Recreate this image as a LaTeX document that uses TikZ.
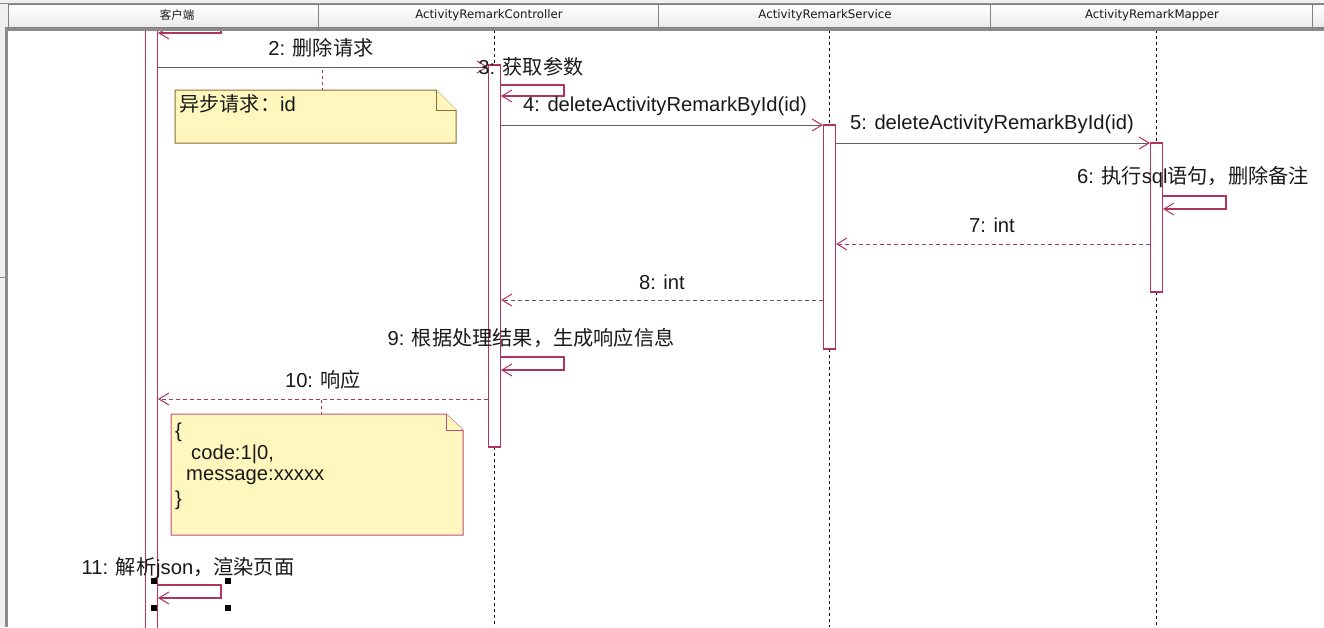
\documentclass[tikz,border=0pt]{standalone}
\usepackage{fontspec}
\setmainfont{Liberation Sans}
\newfontfamily\cjk{Noto Sans CJK SC}
\newfontfamily\hdr{DejaVu Sans}
\usetikzlibrary{arrows.meta}
\definecolor{lred}{RGB}{176,52,96}
\definecolor{msggray}{RGB}{95,95,95}
\definecolor{notefill}{RGB}{255,247,190}
\definecolor{noteedge}{RGB}{140,110,50}
\definecolor{hdrfill}{RGB}{240,240,240}
\definecolor{hdredge}{RGB}{140,140,140}
\tikzset{
  lbl/.style={font=\fontsize{20.2}{23}\selectfont, inner sep=0pt, text=black!90},
  hlbl/.style={font=\hdr\fontsize{11.8}{13}\selectfont, inner sep=0pt, text=black!90},
  actbar/.style={draw=lred, fill=white, line width=1.3pt},
  lifeline/.style={draw=black, line width=0.9pt, dash pattern=on 3pt off 3pt},
  tip/.style={-{Straight Barb[length=10pt,width=12pt,line width=1pt,color=lred]}},
  msg/.style={draw=msggray, line width=1pt, tip},
  ret/.style={draw=lred, line width=1pt, dash pattern=on 4pt off 3pt, tip},
  retg/.style={draw=msggray, line width=1pt, dash pattern=on 4pt off 3pt, tip},
  selfmsg/.style={draw=lred, line width=1.1pt, tip},
  notelink/.style={draw=lred, line width=1pt, dash pattern=on 3pt off 3pt},
  handle/.style={fill=black, draw=none, minimum size=6pt, inner sep=0pt},
}
\begin{document}
\begin{tikzpicture}[x=1pt,y=-1pt]
\useasboundingbox (0,0) rectangle (1324,627);
\fill[white] (0,0) rectangle (1324,627);

% ---------- lifelines ----------
\draw[lifeline] (494.5,30) -- (494.5,65);
\draw[lifeline] (494.5,447) -- (494.5,627);
\draw[lifeline] (829.5,30) -- (829.5,125);
\draw[lifeline] (829.5,349) -- (829.5,627);
\draw[lifeline] (1156.5,30) -- (1156.5,143);
\draw[lifeline] (1156.5,292) -- (1156.5,627);

% ---------- activation bars ----------
\draw[actbar] (145.5,20) rectangle (157.5,640);
\draw[actbar] (488.5,65) rectangle (500.5,447);
\draw[actbar] (823.5,125) rectangle (835.5,349);
\draw[actbar] (1150.5,143) rectangle (1162.5,292);

% named coordinates
\coordinate (c1a) at (221,20);  \coordinate (c1b) at (221,33);  \coordinate (c1c) at (158,33);
\coordinate (m2s) at (157,67);  \coordinate (m2e) at (488,67);
\coordinate (s3a) at (500,85);  \coordinate (s3b) at (564,85); \coordinate (s3c) at (564,96); \coordinate (s3d) at (501,96);
\coordinate (m4s) at (500,125); \coordinate (m4e) at (823,125);
\coordinate (m5s) at (835,143); \coordinate (m5e) at (1150,143);
\coordinate (s6a) at (1162,196); \coordinate (s6b) at (1226,196); \coordinate (s6c) at (1226,209); \coordinate (s6d) at (1163,209);
\coordinate (m7s) at (1150,244); \coordinate (m7e) at (836,244);
\coordinate (m8s) at (823,300); \coordinate (m8e) at (501,300);
\coordinate (s9a) at (500,357); \coordinate (s9b) at (564,357); \coordinate (s9c) at (564,370); \coordinate (s9d) at (501,370);
\coordinate (m10s) at (488,399); \coordinate (m10e) at (158,399);
\coordinate (s11a) at (157,585); \coordinate (s11b) at (221,585); \coordinate (s11c) at (221,598); \coordinate (s11d) at (158,598);

% ---------- messages ----------
\draw[selfmsg] (c1a) -- (c1b) -- (c1c);
\draw[msg] (m2s) -- (m2e);
\draw[selfmsg] (s3a) -- (s3b) -- (s3c) -- (s3d);
\draw[msg] (m4s) -- (m4e);
\draw[msg] (m5s) -- (m5e);
\draw[selfmsg] (s6a) -- (s6b) -- (s6c) -- (s6d);
\draw[ret] (m7s) -- (m7e);
\draw[retg] (m8s) -- (m8e);
\draw[selfmsg] (s9a) -- (s9b) -- (s9c) -- (s9d);
\draw[ret] (m10s) -- (m10e);
\draw[selfmsg] (s11a) -- (s11b) -- (s11c) -- (s11d);

% ---------- labels ----------
\node[lbl] (l2) at (321,48) {2: {\cjk 删除请求}};
\node[lbl] (l3) at (531,67) {3: {\cjk 获取参数}};
\node[lbl] (l4) at (665,106) {4: deleteActivityRemarkById(id)};
\node[lbl] (l5) at (992,124) {5: deleteActivityRemarkById(id)};
\node[lbl] (l6) at (1193,177) {6: {\cjk 执行}sql{\cjk 语句，删除备注}};
\node[lbl] (l7) at (992,225) {7: int};
\node[lbl] (l8) at (662,282) {8: int};
\node[lbl] (l9) at (531,338) {9: {\cjk 根据处理结果，生成响应信息}};
\node[lbl] (l10) at (323,380) {10: {\cjk 响应}};
\node[lbl] (l11) at (188,568) {11: {\cjk 解析}json{\cjk ，渲染页面}};

% ---------- notes ----------
\coordinate (n1top) at (322,90); \coordinate (n1link) at (322,70);
\draw[notelink] (n1link) -- (n1top);
\draw[fill=notefill, draw=noteedge, line width=1pt]
  (175,90) -- (436,90) -- (456,110) -- (456,143) -- (175,143) -- cycle;
\draw[draw=noteedge, line width=1pt, fill=notefill] (436,90) -- (436,110) -- (456,110);
\node[lbl, anchor=west] (note1) at (179,104) {{\cjk 异步请求：}id};

\coordinate (n2top) at (321,414); \coordinate (n2link) at (321,400);
\draw[notelink] (n2link) -- (n2top);
\draw[fill=notefill, draw=lred!85, line width=1pt]
  (171,414) -- (446,414) -- (463,430) -- (463,535) -- (171,535) -- cycle;
\draw[draw=lred!85, line width=1pt, fill=notefill] (446,414) -- (446,430) -- (463,430);
\node[lbl, anchor=west] (note2a) at (175,432) {\{};
\node[lbl, anchor=west] (note2b) at (191,454) {code:1|0,};
\node[lbl, anchor=west] (note2c) at (186,477) {message:xxxxx};
\node[lbl, anchor=west] (note2d) at (175,500) {\}};

% ---------- selection handles ----------
\node[handle] (h1) at (154,581) {};
\node[handle] (h2) at (228,581) {};
\node[handle] (h3) at (154,608) {};
\node[handle] (h4) at (228,608) {};

% ---------- header / frame ----------
\fill[hdrfill] (0,0) rectangle (1324,28);
\draw[hdredge, line width=0.6pt] (0,3) -- (1324,3);
\fill[hdrfill] (0,28) rectangle (6,627);
\fill[hdredge] (5,28) rectangle (8,627);
\draw[hdredge, line width=0.6pt] (0,277) -- (5,277);
\fill[hdredge] (5,27) rectangle (1324,31);
\foreach \xa/\xb in {8/318,318/658,658/990,990/1312,1312/1330}{
  \shade[top color=white, bottom color=black!8] (\xa,4) rectangle (\xb,27);
  \draw[black!50, line width=0.7pt] (\xa,4) rectangle (\xb,27);
}
\node[hlbl] (hc) at (177,15) {{\cjk\fontsize{11.5}{12}\selectfont 客户端}};
\node[hlbl] (hctl) at (489,15) {ActivityRemarkController};
\node[hlbl] (hsvc) at (825,15) {ActivityRemarkService};
\node[hlbl] (hmap) at (1152,15) {ActivityRemarkMapper};
\end{tikzpicture}
\end{document}
